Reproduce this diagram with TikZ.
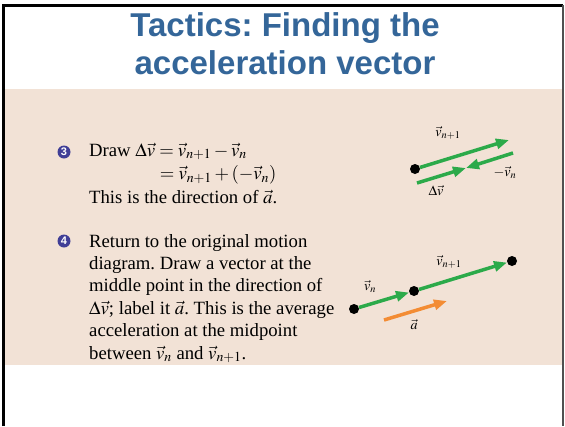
\documentclass[tikz,border=0pt]{standalone}
\usepackage{mathptmx}
\usepackage{fontspec}
\setmainfont{Liberation Serif}
\newfontfamily\titlefont{Liberation Sans}
\frenchspacing
\usetikzlibrary{
  arrows.meta,
  positioning
}
\definecolor{slideBlue}{RGB}{52,102,153}
\definecolor{slideBeige}{RGB}{242,226,214}
\definecolor{vecGreen}{RGB}{44,170,74}
\definecolor{vecOrange}{RGB}{243,140,52}
\definecolor{stepPurple}{RGB}{64,62,150}
\definecolor{frameGray}{RGB}{80,80,80}
\tikzset{
  slideTitle/.style={
    font=\titlefont\bfseries\fontsize{33}{38}\selectfont,
    text=slideBlue,
    align=center,
    inner sep=0pt
  },
  stepText/.style={
    font=\fontsize{18.7}{22.4}\selectfont,
    align=left,
    anchor=base west,
    inner sep=0pt
  },
  stepBullet/.style={
    circle,
    fill=stepPurple,
    text=white,
    inner sep=0pt,
    minimum size=13pt,
    font=\titlefont\bfseries\fontsize{11}{11}\selectfont
  },
  motionDot/.style={
    circle,
    fill=black,
    inner sep=0pt,
    minimum size=10pt
  },
  velArrow/.style={
    -{Triangle[length=13pt,width=10pt]},
    draw=vecGreen,
    fill=vecGreen,
    line width=3.5pt
  },
  accArrow/.style={
    velArrow,
    draw=vecOrange,
    fill=vecOrange
  },
  vecLabel/.style={
    font=\fontsize{14}{14}\selectfont,
    inner sep=0pt
  }
}

\begin{document}
\begin{tikzpicture}[x=1pt,y=-1pt]
  \useasboundingbox (0,0) rectangle (565,426);
  \fill[white] (0,0) rectangle (565,426);
  % panel and frame
  \fill[slideBeige] (4,89) rectangle (563,365);
  \draw[black, line width=3pt] (3,426) -- (3,5) -- (563,5);
  \draw[frameGray, line width=1.5pt] (563,5) -- (563,426);

  \node[slideTitle] (title) at (285,44) {Tactics: Finding the\\acceleration vector};

  % step 3 (base anchor = last line)
  \node[stepBullet] (bulletThree) at (64,152) {3};
  \node[stepText, font=\fontsize{18.7}{23.5}\selectfont] (stepThree) at (89,203)
    {Draw $\Delta\vec{v} = \vec{v}_{n+1} - \vec{v}_{n}$\\
     \hphantom{Draw $\Delta\vec{v}$ }$= \vec{v}_{n+1} + (-\vec{v}_{n})$\\
     This is the direction of $\vec{a}$.};

  \node[motionDot] (tailDot) at (415,169) {};
  \coordinate (nextTip) at (509,140);
  \coordinate (negTail) at (513,153);
  \coordinate (meetTip) at (466,168);
  \coordinate (diffTail) at (417,183);
  \draw[velArrow] (tailDot) -- (nextTip);
  \draw[velArrow] (negTail) -- (meetTip);
  \draw[velArrow] (diffTail) -- (meetTip);
  \node[vecLabel] (nextLabel) at (448,133) {$\vec{v}_{n+1}$};
  \node[vecLabel] (negLabel) at (505,173) {$-\vec{v}_{n}$};
  \node[vecLabel] (diffLabel) at (436,191) {$\Delta\vec{v}$};

  % step 4
  \node[stepBullet] (bulletFour) at (64,241) {4};
  \node[stepText] (stepFour) at (89,359)
    {Return to the original motion\\
     diagram. Draw a vector at the\\
     middle point in the direction of\\
     $\Delta\vec{v}$; label it $\vec{a}$. This is the average\\
     acceleration at the midpoint\\
     between $\vec{v}_{n}$ and $\vec{v}_{n+1}$.};

  \node[motionDot] (firstDot) at (354,309) {};
  \node[motionDot] (middleDot) at (414,291) {};
  \node[motionDot] (lastDot) at (512,261) {};
  \draw[velArrow] (firstDot) -- (middleDot);
  \draw[velArrow] (middleDot) -- (lastDot);
  \coordinate (accTail) at (384,320);
  \coordinate (accTip) at (447,301);
  \draw[accArrow] (accTail) -- (accTip);
  \node[vecLabel] (vnLabel) at (370,287) {$\vec{v}_{n}$};
  \node[vecLabel] (vnextLabel) at (449,262) {$\vec{v}_{n+1}$};
  \node[vecLabel] (aLabel) at (414,325) {$\vec{a}$};
\end{tikzpicture}
\end{document}
